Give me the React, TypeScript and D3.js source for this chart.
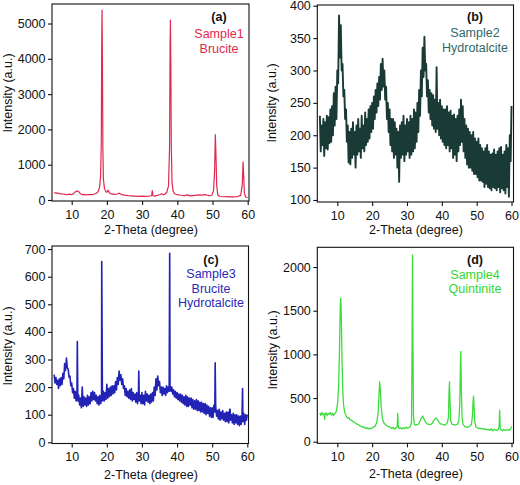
import React, { useEffect, useRef } from "react";
import * as d3 from "d3";

// ---------- data ----------
const twoThetaTicks = [10, 20, 30, 40, 50, 60];
const ticksA = [0, 1000, 2000, 3000, 4000, 5000];
const ticksB = [100, 150, 200, 250, 300, 350, 400];
const ticksC = [0, 100, 200, 300, 400, 500, 600, 700];
const ticksD = [0, 500, 1000, 1500, 2000];

// Sample1 (Brucite): [2-theta, intensity]
const sample1Pattern: [number, number][] = [
  [5.0, 215], [5.5, 190], [6.0, 200], [6.5, 180], [7.0, 175], [7.5, 170], [8.0, 160], [8.5, 150],
  [9.0, 160], [9.5, 165], [10.0, 150], [10.5, 180], [11.0, 230], [11.5, 258], [12.0, 240], [12.5, 175],
  [13.0, 150], [13.5, 158], [14.0, 145], [15.0, 152], [16.0, 155], [16.5, 170], [17.0, 190], [17.5, 240],
  [17.9, 350], [18.2, 650], [18.4, 1600], [18.52, 4300], [18.62, 5380], [18.72, 4100], [18.85, 1500],
  [19.0, 600], [19.3, 330], [19.7, 230], [20.0, 220], [20.3, 280], [20.6, 220], [21.0, 180], [22.0, 160],
  [23.0, 170], [23.5, 195], [24.0, 160], [25.0, 140], [26.0, 125], [27.0, 118], [28.0, 112], [29.0, 105],
  [30.0, 110], [31.0, 105], [32.0, 112], [32.7, 120], [32.9, 270], [33.1, 120], [33.5, 112], [34.0, 125],
  [35.0, 150], [35.5, 175], [36.0, 150], [36.5, 165], [37.0, 220], [37.5, 400], [37.8, 1500], [37.95, 4400],
  [38.05, 5100], [38.15, 4000], [38.3, 1500], [38.5, 500], [38.8, 250], [39.3, 170], [40.0, 150],
  [41.0, 135], [42.0, 125], [43.0, 145], [43.5, 118], [44.0, 115], [45.0, 130], [46.0, 145], [47.0, 140],
  [48.0, 150], [49.0, 125], [49.8, 135], [50.3, 260], [50.6, 850], [50.8, 1850], [50.95, 1400],
  [51.2, 400], [51.5, 150], [52.0, 100], [53.0, 92], [54.0, 96], [55.0, 90], [56.0, 88], [57.0, 92],
  [58.0, 130], [58.45, 420], [58.68, 1080], [58.85, 700], [59.05, 200], [59.4, 85], [60.0, 70],
];

// Sample2 (Hydrotalcite): intensities every 0.25 degree from 5 to 60
const gridStart = 5;
const gridStep = 0.25;
const sample2Intensity = [
  230, 175, 215, 185, // 5
  225, 168, 220, 180, // 6
  230, 178, 228, 188, // 7
  240, 190, 245, 200, // 8
  265, 215, 275, 225, // 9
  300, 280, 385, 320, // 10
  370, 300, 310, 260, // 11
  270, 225, 240, 190, // 12
  215, 158, 205, 155, // 13
  210, 165, 220, 170, // 14
  205, 150, 215, 170, // 15
  225, 175, 210, 165, // 16
  230, 180, 215, 175, // 17
  235, 185, 225, 190, // 18
  240, 195, 245, 205, // 19
  250, 210, 260, 225, // 20
  270, 235, 280, 245, // 21
  290, 255, 310, 270, // 22
  318, 275, 300, 255, // 23
  275, 225, 250, 205, // 24
  240, 185, 225, 175, // 25
  225, 165, 220, 170, // 26
  210, 150, 205, 128, // 27
  215, 165, 220, 170, // 28
  230, 160, 215, 170, // 29
  225, 175, 220, 165, // 30
  230, 170, 225, 175, // 31
  240, 180, 235, 190, // 32
  250, 205, 270, 230, // 33
  300, 260, 335, 290, // 34
  352, 300, 310, 260, // 35
  285, 235, 270, 225, // 36
  265, 215, 262, 210, // 37
  255, 205, 305, 210, // 38
  250, 200, 255, 195, // 39
  245, 190, 240, 185, // 40
  240, 180, 245, 185, // 41
  235, 175, 238, 180, // 42
  230, 165, 232, 170, // 43
  225, 160, 230, 175, // 44
  240, 185, 255, 190, // 45
  245, 175, 225, 165, // 46
  215, 155, 210, 150, // 47
  205, 150, 200, 145, // 48
  205, 140, 195, 140, // 49
  190, 135, 195, 130, // 50
  185, 130, 180, 128, // 51
  175, 120, 180, 125, // 52
  185, 120, 175, 118, // 53
  170, 115, 172, 120, // 54
  178, 118, 170, 115, // 55
  175, 120, 180, 112, // 56
  182, 118, 170, 115, // 57
  175, 110, 185, 120, // 58
  180, 105, 200, 160, // 59
  245,                // 60
];

// Sample3 (Brucite + Hydrotalcite): intensities every 0.25 degree from 5 to 60
const sample3Intensity = [
  245, 215, 235, 210, // 5
  225, 195, 230, 205, // 6
  235, 210, 250, 230, // 7
  285, 260, 305, 270, // 8
  265, 235, 240, 205, // 9
  215, 180, 195, 160, // 10
  185, 150, 175, 150, // 11
  170, 135, 160, 125, // 12
  200, 130, 165, 135, // 13
  160, 130, 170, 135, // 14
  165, 140, 180, 150, // 15
  185, 155, 180, 150, // 16
  170, 140, 165, 135, // 17
  170, 140, 165, 150, // 18
  185, 150, 180, 155, // 19
  210, 160, 195, 165, // 20
  200, 170, 205, 175, // 21
  205, 180, 220, 190, // 22
  235, 210, 258, 225, // 23
  245, 210, 230, 195, // 24
  205, 170, 195, 165, // 25
  185, 160, 190, 155, // 26
  195, 150, 180, 155, // 27
  175, 145, 180, 140, // 28
  175, 150, 170, 140, // 29
  180, 140, 170, 135, // 30
  185, 150, 175, 145, // 31
  170, 140, 175, 145, // 32
  180, 150, 200, 170, // 33
  230, 190, 240, 205, // 34
  220, 180, 200, 170, // 35
  200, 175, 195, 170, // 36
  205, 180, 200, 185, // 37
  205, 185, 200, 175, // 38
  190, 165, 185, 160, // 39
  180, 155, 175, 150, // 40
  175, 145, 170, 140, // 41
  165, 135, 170, 130, // 42
  165, 130, 160, 135, // 43
  160, 125, 155, 120, // 44
  150, 120, 155, 115, // 45
  150, 115, 145, 110, // 46
  145, 110, 140, 105, // 47
  140, 100, 135, 105, // 48
  130, 95, 125, 90,   // 49
  125, 90, 135, 110,  // 50
  130, 95, 115, 85,   // 51
  120, 80, 110, 85,   // 52
  115, 80, 105, 75,   // 53
  110, 75, 110, 70,   // 54
  120, 80, 100, 70,   // 55
  105, 65, 100, 70,   // 56
  100, 65, 95, 60,    // 57
  95, 65, 100, 75,    // 58
  105, 65, 100, 80,   // 59
  100,                // 60
];
const sample3Peaks: [number, number][] = [
  [11.6, 365], [18.55, 655], [29.1, 258], [37.9, 685], [50.85, 288], [55.1, 120], [58.65, 195],
];

// Sample4 (Quintinite): [2-theta, intensity]
const sample4Pattern: [number, number][] = [
  [5.0, 330], [5.3, 300], [5.6, 335], [5.9, 310], [6.2, 320], [6.35, 255], [6.5, 315], [6.8, 330],
  [7.1, 300], [7.4, 325], [7.7, 315], [8.0, 335], [8.3, 305], [8.6, 325], [8.9, 300], [9.2, 315],
  [9.5, 330], [9.8, 360], [10.1, 450], [10.4, 650], [10.65, 1100], [10.85, 1550], [11.0, 1645],
  [11.15, 1450], [11.35, 950], [11.55, 600], [11.8, 420], [12.1, 340], [12.5, 300], [12.9, 270],
  [13.3, 275], [13.7, 250], [14.1, 245], [14.5, 230], [14.9, 225], [15.3, 210], [15.7, 200],
  [16.1, 195], [16.5, 180], [16.9, 175], [17.3, 165], [17.7, 170], [18.1, 150], [18.5, 160],
  [18.9, 145], [19.3, 155], [19.7, 150], [20.1, 160], [20.5, 170], [20.9, 180], [21.3, 220],
  [21.7, 320], [21.95, 520], [22.15, 686], [22.35, 600], [22.6, 400], [22.9, 270], [23.3, 220],
  [23.7, 200], [24.1, 185], [24.5, 175], [24.9, 170], [25.3, 160], [25.7, 150], [26.1, 165],
  [26.5, 145], [26.9, 160], [27.2, 175], [27.35, 325], [27.5, 170], [27.8, 150], [28.2, 160],
  [28.6, 145], [29.0, 160], [29.4, 150], [29.8, 165], [30.2, 155], [30.6, 165], [31.0, 175],
  [31.3, 230], [31.45, 1000], [31.58, 2140], [31.7, 1200], [31.85, 300], [32.1, 200], [32.5, 190],
  [32.9, 195], [33.3, 200], [33.7, 230], [34.1, 270], [34.5, 294], [34.9, 260], [35.3, 225],
  [35.7, 205], [36.1, 200], [36.5, 195], [36.9, 200], [37.3, 215], [37.7, 245], [38.1, 265],
  [38.4, 270], [38.8, 250], [39.2, 225], [39.6, 205], [40.0, 200], [40.4, 195], [40.8, 190],
  [41.2, 200], [41.6, 220], [41.9, 280], [42.05, 550], [42.2, 686], [42.35, 450], [42.55, 240],
  [42.9, 200], [43.3, 195], [43.7, 190], [44.1, 195], [44.5, 200], [44.9, 240], [45.15, 450],
  [45.35, 900], [45.45, 1035], [45.6, 600], [45.8, 280], [46.1, 200], [46.5, 175], [46.9, 170],
  [47.3, 165], [47.7, 170], [48.1, 180], [48.5, 200], [48.8, 300], [48.95, 450], [49.1, 522],
  [49.25, 400], [49.45, 230], [49.8, 170], [50.2, 160], [50.6, 150], [51.0, 155], [51.4, 145],
  [51.8, 150], [52.2, 140], [52.6, 145], [53.0, 135], [53.4, 140], [53.8, 130], [54.2, 150],
  [54.6, 125], [55.0, 140], [55.4, 135], [55.8, 130], [56.2, 140], [56.45, 170], [56.6, 362],
  [56.75, 160], [57.0, 135], [57.4, 125], [57.8, 140], [58.2, 130], [58.6, 135], [59.0, 140],
  [59.4, 130], [59.8, 150], [60.0, 175],
];

const gridPoints = (vals: number[]): [number, number][] =>
  vals.map((v, i) => [gridStart + i * gridStep, v] as [number, number]);

const FONT = "'Liberation Sans', Arial, Helvetica, sans-serif";

type Box = { left: number; top: number; right: number; bottom: number };

function Panel(props: {
  points: [number, number][];
  xDomain: [number, number];
  yDomain: [number, number];
  box: Box;
  yTicks: number[];
  lineColor: string;
  lineWidth: number;
  textColor: string;
  tag: string;
  lines: string[];
  tagPos: [number, number];
  lineStartY: number;
  lineGap: number;
  yTitlePos: [number, number];
  xTitlePos: [number, number];
}) {
  const { points, xDomain, yDomain, box, yTicks, lineColor, textColor } = props;
  const gx = useRef<SVGGElement>(null);
  const gy = useRef<SVGGElement>(null);
  const x = d3.scaleLinear().domain(xDomain).range([box.left, box.right]);
  const y = d3.scaleLinear().domain(yDomain).range([box.bottom, box.top]);
  const fmt = d3.format("d");

  useEffect(() => {
    const ax = d3.select(gx.current!);
    ax.call(
      d3.axisBottom(x).tickValues(twoThetaTicks).tickFormat(fmt as any).tickSize(4).tickPadding(5).tickSizeOuter(0)
    );
    ax.select(".domain").remove();
    ax.attr("font-family", FONT).attr("font-size", 12.5);
    ax.selectAll("text").attr("fill", "#111");
    ax.selectAll("line").attr("stroke", "#111").attr("stroke-width", 1.1);
    const ay = d3.select(gy.current!);
    ay.call(
      d3.axisLeft(y).tickValues(yTicks).tickFormat(fmt as any).tickSize(4).tickPadding(2.5).tickSizeOuter(0)
    );
    ay.select(".domain").remove();
    ay.attr("font-family", FONT).attr("font-size", 12.5);
    ay.selectAll("text").attr("fill", "#111");
    ay.selectAll("line").attr("stroke", "#111").attr("stroke-width", 1.1);
  });

  const line = d3
    .line<[number, number]>()
    .x((d) => x(d[0]))
    .y((d) => y(d[1]));

  return (
    <g>
      <path
        d={line(points) || ""}
        fill="none"
        stroke={lineColor}
        strokeWidth={props.lineWidth}
        strokeLinejoin="round"
      />
      <rect
        x={box.left}
        y={box.top}
        width={box.right - box.left}
        height={box.bottom - box.top}
        fill="none"
        stroke="#111"
        strokeWidth={1.1}
      />
      <g ref={gx} transform={`translate(0,${box.bottom})`} />
      <g ref={gy} transform={`translate(${box.left},0)`} />
      <text
        x={props.tagPos[0]}
        y={props.tagPos[1]}
        textAnchor="middle"
        fontFamily={FONT}
        fontSize={12.5}
        fontWeight="bold"
        fill="#111"
      >
        {props.tag}
      </text>
      {props.lines.map((t, i) => (
        <text
          key={t}
          x={props.tagPos[0]}
          y={props.lineStartY + i * props.lineGap}
          textAnchor="middle"
          fontFamily={FONT}
          fontSize={12.5}
          fill={textColor}
        >
          {t}
        </text>
      ))}
      <text
        transform={`translate(${props.yTitlePos[0]},${props.yTitlePos[1]}) rotate(-90)`}
        textAnchor="middle"
        fontFamily={FONT}
        fontSize={12.5}
        fill="#111"
      >
        Intensity (a.u.)
      </text>
      <text
        x={props.xTitlePos[0]}
        y={props.xTitlePos[1]}
        textAnchor="middle"
        fontFamily={FONT}
        fontSize={12.5}
        fill="#111"
      >
        2-Theta (degree)
      </text>
    </g>
  );
}

export default function App() {
  const s2 = gridPoints(sample2Intensity);
  const s3 = d3.sort([...gridPoints(sample3Intensity), ...sample3Peaks], (d) => d[0]);
  return (
    <svg
      width={520}
      height={485}
      style={{ position: "absolute", left: 0, top: 0, background: "#fff" }}
    >
      <rect x={0} y={0} width={520} height={485} fill="#fff" />
      <Panel
        points={sample1Pattern}
        xDomain={[4.4, 60.37]}
        yDomain={[-28, 5553]}
        box={{ left: 52, top: 4, right: 249, bottom: 201 }}
        yTicks={ticksA}
        lineColor="#e0294f"
        lineWidth={1.2}
        textColor="#e0294f"
        tag="(a)"
        lines={["Sample1", "Brucite"]}
        tagPos={[219, 20.5]}
        lineStartY={37.5}
        lineGap={15}
        yTitlePos={[11.5, 93]}
        xTitlePos={[151, 234]}
      />
      <Panel
        points={s2}
        xDomain={[4.26, 60.57]}
        yDomain={[96.9, 401.1]}
        box={{ left: 317.3, top: 5, right: 513.5, bottom: 202 }}
        yTicks={ticksB}
        lineColor="#193a35"
        lineWidth={1.9}
        textColor="#2f6868"
        tag="(b)"
        lines={["Sample2", "Hydrotalcite"]}
        tagPos={[475, 21]}
        lineStartY={37.3}
        lineGap={14.5}
        yTitlePos={[275.5, 103]}
        xTitlePos={[416, 234]}
      />
      <Panel
        points={s3}
        xDomain={[4.39, 60.34]}
        yDomain={[-4.3, 711.2]}
        box={{ left: 52, top: 246, right: 248.5, bottom: 443.5 }}
        yTicks={ticksC}
        lineColor="#2222b4"
        lineWidth={1.6}
        textColor="#2a2ab8"
        tag="(c)"
        lines={["Sample3", "Brucite", "Hydrotalcite"]}
        tagPos={[211, 263.5]}
        lineStartY={278.3}
        lineGap={14.2}
        yTitlePos={[11.5, 346]}
        xTitlePos={[151, 479]}
      />
      <Panel
        points={sample4Pattern}
        xDomain={[4.26, 60.57]}
        yDomain={[-18.3, 2226]}
        box={{ left: 317.3, top: 247.3, right: 513.5, bottom: 443.3 }}
        yTicks={ticksD}
        lineColor="#3ddc3d"
        lineWidth={1.3}
        textColor="#33d633"
        tag="(d)"
        lines={["Sample4", "Quintinite"]}
        tagPos={[475, 264]}
        lineStartY={279.3}
        lineGap={14}
        yTitlePos={[276.5, 350]}
        xTitlePos={[416, 478]}
      />
    </svg>
  );
}
